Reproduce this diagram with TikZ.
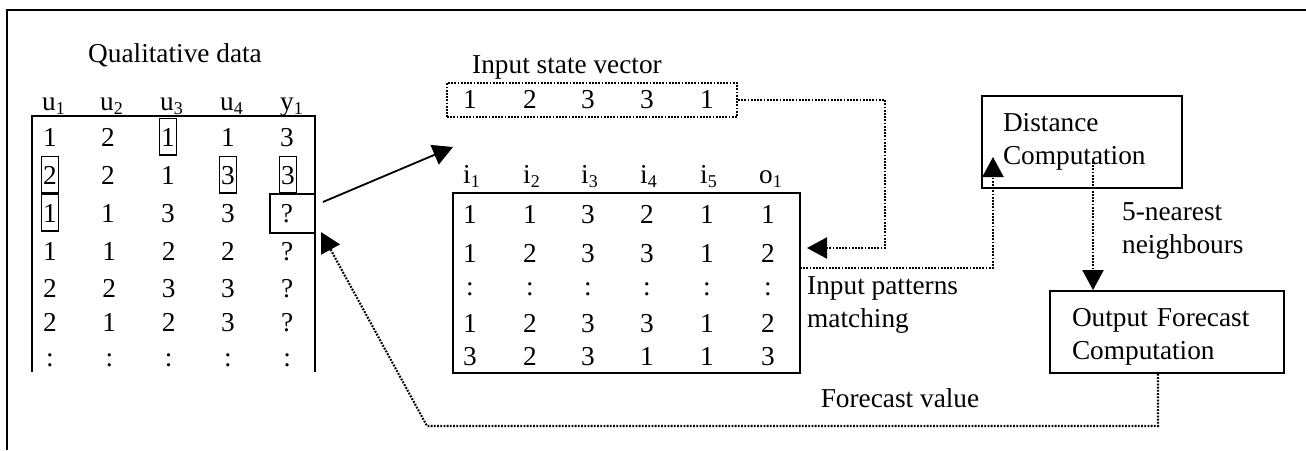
\documentclass[tikz,border=0pt]{standalone}
\usepackage{fontspec}
\setmainfont{Liberation Serif}
\usetikzlibrary{arrows.meta,calc}
\newcommand\mysub[1]{\raisebox{-4pt}{\fontsize{18}{18}\selectfont #1}}
\begin{document}
\begin{tikzpicture}[x=1pt,y=-1pt,
  every node/.style={font=\fontsize{27.3}{33}\selectfont, inner sep=0pt},
  cell/.style={anchor=base},
  hdr/.style={anchor=base west},
  bx/.style={anchor=base, draw, line width=1.5pt, text height=18.6pt, text depth=0pt, inner xsep=1.5pt, inner ysep=9pt},
  frame/.style={line width=1.8pt},
  dotline/.style={line width=2.1pt, dash pattern=on 1.8pt off 1.4pt},
  tri/.style={-{Triangle[length=20pt,width=21pt]}},
  block/.style={draw, line width=1.8pt, align=left, inner ysep=0pt},
]
\useasboundingbox (0,0) rectangle (1306,450);
% outer frame (top and left edges)
\draw[frame] (1306,10) -- (7,10) -- (7,450);

% ---------- left table ----------
\node[anchor=base] (qd) at (175,62) {Qualitative data};
\node[hdr] (hu1) at (42,110) {u\mysub{1}};
\node[hdr] (hu2) at (100,110) {u\mysub{2}};
\node[hdr] (hu3) at (160,110) {u\mysub{3}};
\node[hdr] (hu4) at (220,110) {u\mysub{4}};
\node[hdr] (hy1) at (280,110) {y\mysub{1}};
\draw[frame] (32,372) -- (32,116) -- (315,116) -- (315,372);

% row 1
\node[cell] (a11) at (50,146) {1};
\node[cell] (a12) at (108,146) {2};
\node[bx]   (a13) at (168,146) {1};
\node[cell] (a14) at (228,146) {1};
\node[cell] (a15) at (287,146) {3};
% row 2
\node[bx]   (a21) at (50,184) {2};
\node[cell] (a22) at (108,184) {2};
\node[cell] (a23) at (168,184) {1};
\node[bx]   (a24) at (228,184) {3};
\node[bx]   (a25) at (288,184) {3};
% row 3
\node[bx]   (a31) at (50,222) {1};
\node[cell] (a32) at (108,222) {1};
\node[cell] (a33) at (168,222) {3};
\node[cell] (a34) at (228,222) {3};
\node[cell] (a35) at (287,222) {?};
\node[draw, line width=1.8pt, minimum width=45pt, minimum height=39pt] (q) at (292.5,213.5) {};
% rows 4-7
\foreach \v [count=\c] in {1,1,2,2,?}
  \node[cell] (a4\c) at ({50+59.3*(\c-1)},260) {\v};
\foreach \v [count=\c] in {2,2,3,3,?}
  \node[cell] (a5\c) at ({50+59.3*(\c-1)},297) {\v};
\foreach \v [count=\c] in {2,1,2,3,?}
  \node[cell] (a6\c) at ({50+59.3*(\c-1)},331) {\v};
\foreach \c in {1,...,5}
  \node[cell] (a7\c) at ({50+59.3*(\c-1)},366) {:};

% ---------- input state vector ----------
\node[anchor=base] (isvl) at (567,73) {Input state vector};
\node[draw, dotline, minimum width=290pt, minimum height=34pt] (isv) at (592,100) {};
\foreach \v/\x [count=\c] in {1/470,2/530,3/588,3/647,1/707}
  \node[cell] (s\c) at (\x,108) {\v};

% ---------- pattern table ----------
\node[hdr] (hi1) at (463,183) {i\mysub{1}};
\node[hdr] (hi2) at (523,183) {i\mysub{2}};
\node[hdr] (hi3) at (581,183) {i\mysub{3}};
\node[hdr] (hi4) at (640,183) {i\mysub{4}};
\node[hdr] (hi5) at (700,183) {i\mysub{5}};
\node[hdr] (ho1) at (759,183) {o\mysub{1}};
\node[draw, frame, minimum width=347pt, minimum height=180pt] (pat) at (626.5,283) {};
\foreach \v/\x [count=\c] in {1/470,1/530,3/588,2/647,1/707,1/768}
  \node[cell] (p1\c) at (\x,223) {\v};
\foreach \v/\x [count=\c] in {1/470,2/530,3/588,3/647,1/707,2/768}
  \node[cell] (p2\c) at (\x,262) {\v};
\foreach \x [count=\c] in {470,530,588,647,707,768}
  \node[cell] (p3\c) at (\x,295) {:};
\foreach \v/\x [count=\c] in {1/470,2/530,3/588,3/647,1/707,2/768}
  \node[cell] (p4\c) at (\x,332) {\v};
\foreach \v/\x [count=\c] in {3/470,2/530,3/588,1/647,1/707,3/768}
  \node[cell] (p5\c) at (\x,365) {\v};

\node[anchor=base west, align=left] (ipm) at (807,327) {Input patterns\\matching};

% ---------- right blocks ----------
\node[block, text width=158pt, inner xsep=21pt, minimum height=92pt] (dist) at (1082,142) {Distance\\Computation};
\node[block, text width=190pt, inner xsep=22pt, minimum height=82pt] (out) at (1167,332) {\rule{0pt}{27pt}Output Forecast\\Computation};
\node[anchor=base west, align=left] (knn) at (1122,253) {5-nearest\\neighbours};
\node[anchor=base] (fv) at (900,407) {Forecast value};

% ---------- connectors ----------
\coordinate (qa) at ($(q.east)+(7,-11.5)$);
\coordinate (solidtip) at (453,147);
\draw[line width=1.8pt, tri] (qa) -- (solidtip);

\coordinate (c1) at (885,100);
\coordinate (pin) at (807,248);
\draw[dotline, tri] (isv.east) -- (c1) |- (pin);

\coordinate (pout) at (800,268);
\coordinate (dtip) at (993,157);
\draw[dotline, tri] (pout) -| (dtip);

\coordinate (dstart) at (1093,162);
\draw[dotline, tri] (dstart) -- (dstart |- out.north);

\coordinate (obot) at (1158,426);
\coordinate (bend) at (427,426);
\coordinate (qtip) at (321,232);
\draw[dotline, tri] (obot |- out.south) -- (obot) -- (bend) -- (qtip);
\end{tikzpicture}
\end{document}
